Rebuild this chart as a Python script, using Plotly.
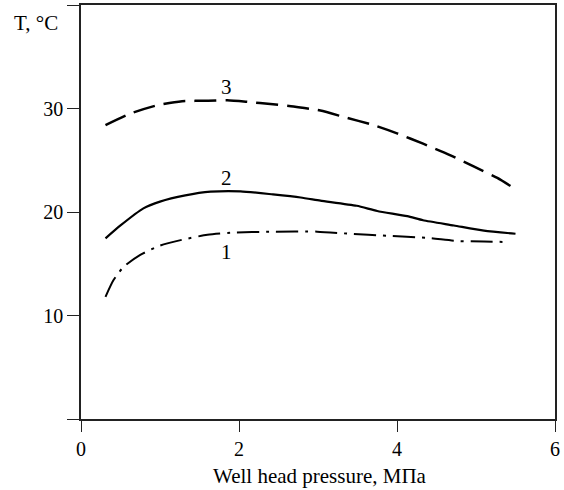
import plotly.graph_objects as go

# Curve 1 (dash-dot)
p1 = [0.31, 0.41, 0.54, 0.75, 1.0, 1.3, 1.6, 1.89, 2.43, 2.99, 3.4, 3.87, 4.38, 4.76, 5.1, 5.39]
t1 = [11.8, 13.4, 14.7, 15.85, 16.75, 17.35, 17.8, 18.0, 18.1, 18.1, 17.9, 17.7, 17.5, 17.2, 17.15, 17.1]
# Curve 2 (solid)
p2 = [0.31, 0.5, 0.79, 1.0, 1.32, 1.64, 2.02, 2.43, 2.78, 3.03, 3.49, 3.75, 4.13, 4.33, 4.72, 5.1, 5.5]
t2 = [17.45, 18.7, 20.35, 21.0, 21.6, 21.96, 22.0, 21.7, 21.4, 21.1, 20.6, 20.1, 19.6, 19.2, 18.7, 18.2, 17.9]
# Curve 3 (dashed)
p3 = [0.31, 0.62, 0.96, 1.28, 1.61, 1.85, 2.1, 2.43, 2.69, 3.03, 3.32, 3.7, 4.0, 4.33, 4.67, 4.97, 5.27, 5.46]
t3 = [28.4, 29.5, 30.3, 30.7, 30.75, 30.8, 30.65, 30.4, 30.2, 29.8, 29.2, 28.4, 27.6, 26.6, 25.5, 24.4, 23.3, 22.4]

curve_labels = ["1", "2", "3"]
label_x = [1.84, 1.84, 1.84]
label_y = [16.1, 23.3, 32.1]

x_ticks = [0, 2, 4, 6]
y_ticks = [0, 10, 20, 30, 40]
y_ticktext = ["", "10", "20", "30", ""]

FONT = "Liberation Serif, Times New Roman, serif"

fig = go.Figure()
fig.add_trace(go.Scatter(x=p1, y=t1, mode="lines", line=dict(color="black", width=2, dash="22px,7px,3px,7px", shape="spline", smoothing=0.6)))
fig.add_trace(go.Scatter(x=p2, y=t2, mode="lines", line=dict(color="black", width=2.2, shape="spline", smoothing=0.6)))
fig.add_trace(go.Scatter(x=p3, y=t3, mode="lines", line=dict(color="black", width=2.5, dash="22px,9px", shape="spline", smoothing=0.6)))

for lab, lx, ly in zip(curve_labels, label_x, label_y):
    fig.add_annotation(x=lx, y=ly, text=lab, showarrow=False, xanchor="center", yanchor="middle",
                       font=dict(family=FONT, size=21, color="black"))

fig.add_annotation(xref="paper", yref="paper", x=-0.095, y=0.957, text="T, °C", showarrow=False,
                   xanchor="center", yanchor="middle", font=dict(family=FONT, size=21, color="black"))
fig.add_annotation(xref="paper", yref="paper", x=0.505, y=-0.137, text="Well head pressure, МПа", showarrow=False,
                   xanchor="center", yanchor="middle", font=dict(family=FONT, size=21, color="black"))

fig.update_layout(
    width=564, height=490,
    margin=dict(l=81, r=9, t=5, b=71),
    paper_bgcolor="white", plot_bgcolor="white",
    showlegend=False,
    font=dict(family=FONT, size=20, color="black"),
    xaxis=dict(range=[0, 6], tickvals=x_ticks, ticks="outside", ticklen=11, tickwidth=1.3, tickcolor="#222",
               showline=True, linecolor="#222", linewidth=1.5, mirror=True, showgrid=False, zeroline=False,
               automargin=False, tickfont=dict(family=FONT, size=20, color="black")),
    yaxis=dict(range=[0, 40], tickvals=y_ticks, ticktext=y_ticktext, ticks="outside", ticklen=12, tickwidth=1.3,
               tickcolor="#222", showline=True, linecolor="#222", linewidth=1.5, mirror=True, showgrid=False,
               zeroline=False, automargin=False, tickfont=dict(family=FONT, size=20, color="black")),
)

fig.write_html("out.html", config={"displayModeBar": False},
               post_script="document.body.style.margin='0';document.body.style.padding='0';")
